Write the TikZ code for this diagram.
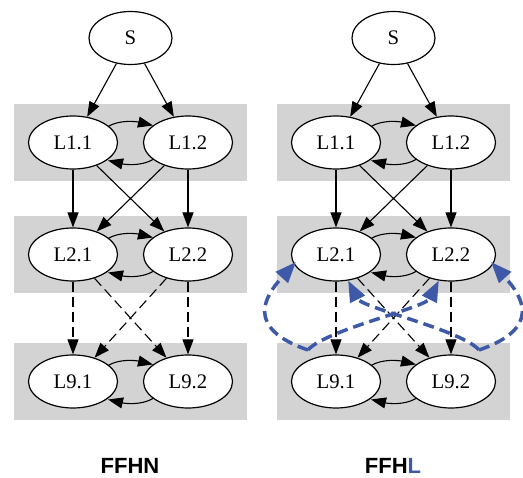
\documentclass[tikz,border=0pt]{standalone}
\usepackage{fontspec}
\setmainfont{Liberation Serif}
\newfontfamily\titlefont{Liberation Sans}
\usetikzlibrary{shapes.geometric,arrows.meta,calc}
\definecolor{bluel}{RGB}{61,89,168}
\definecolor{clgray}{RGB}{211,211,211}
\begin{document}
\begin{tikzpicture}[x=1pt,y=-1pt,
  lnode/.style={ellipse,draw,line width=1.2pt,fill=white,minimum width=89pt,minimum height=53pt,inner sep=0pt,font=\fontsize{20.7}{24}\selectfont},
  snode/.style={lnode,minimum width=83pt},
  edge/.style={line width=1.1pt,-{Triangle[length=15pt,width=11pt]}},
  dedge/.style={edge,dash pattern=on 10pt off 5pt},
  bedge/.style={draw=bluel,line width=3.5pt,dash pattern=on 11pt off 6pt,-{Triangle[length=21pt,width=16pt]}},
  cluster/.style={fill=clgray,draw=none},
  title/.style={font=\titlefont\bfseries\fontsize{22}{26}\selectfont}]
\useasboundingbox (0,0) rectangle (523,478);
\fill[white] (0,0) rectangle (523,478);
\foreach \p/\dx in {a/0,b/263}{
\begin{scope}[xshift=\dx pt]
 \fill[cluster] (14,104) rectangle (247,181);
 \fill[cluster] (14,216) rectangle (247,293);
 \fill[cluster] (14,343) rectangle (247,420);
 \node[snode] (\p-S) at (130.5,38) {S};
 \node[lnode] (\p-11) at (73,142.5) {L1.1};
 \node[lnode] (\p-12) at (188,142.5) {L1.2};
 \node[lnode] (\p-21) at (73,254.5) {L2.1};
 \node[lnode] (\p-22) at (188,254.5) {L2.2};
 \node[lnode] (\p-91) at (73,381.5) {L9.1};
 \node[lnode] (\p-92) at (188,381.5) {L9.2};
\end{scope}
 \draw[edge] (\p-S) -- (\p-11);
 \draw[edge] (\p-S) -- (\p-12);
 \draw[edge] (\p-11) -- (\p-21);
 \draw[edge] (\p-11) -- (\p-22);
 \draw[edge] (\p-12) -- (\p-21);
 \draw[edge] (\p-12) -- (\p-22);
 \draw[dedge] (\p-21) -- (\p-91);
 \draw[dedge] (\p-21) -- (\p-92);
 \draw[dedge] (\p-22) -- (\p-91);
 \draw[dedge] (\p-22) -- (\p-92);
 \foreach \r in {1,2,9}{
  \draw[edge] ($(\p-\r1)+(35,-16)$) .. controls ($(\p-\r1)+(47,-23)$) and ($(\p-\r2)+(-52,-21)$) .. ($(\p-\r2)+(-35,-17)$);
  \draw[edge] ($(\p-\r2)+(-35,17)$) .. controls ($(\p-\r2)+(-47,24)$) and ($(\p-\r1)+(52,22)$) .. ($(\p-\r1)+(35,18)$);
 }
}
\coordinate (v1) at (308,350);
\coordinate (v2) at (479,350);
\draw[bedge,shorten >=-3pt] (v1) .. controls (244,328) and (265,296) .. (b-21.193);
\draw[bedge,shorten >=-3pt] (v2) .. controls (543,328) and (522,296) .. (b-22.-13);
\draw[bedge] (v1) .. controls (325,330) and (425,308) .. (b-22.245);
\draw[bedge] (v2) .. controls (462,330) and (362,308) .. (b-21.-65);
\node[title] (t1) at (130,465.5) {FFHN};
\node[title] (t2) at (393,465.5) {FFH\textcolor{bluel}{L}};
\end{tikzpicture}
\end{document}
